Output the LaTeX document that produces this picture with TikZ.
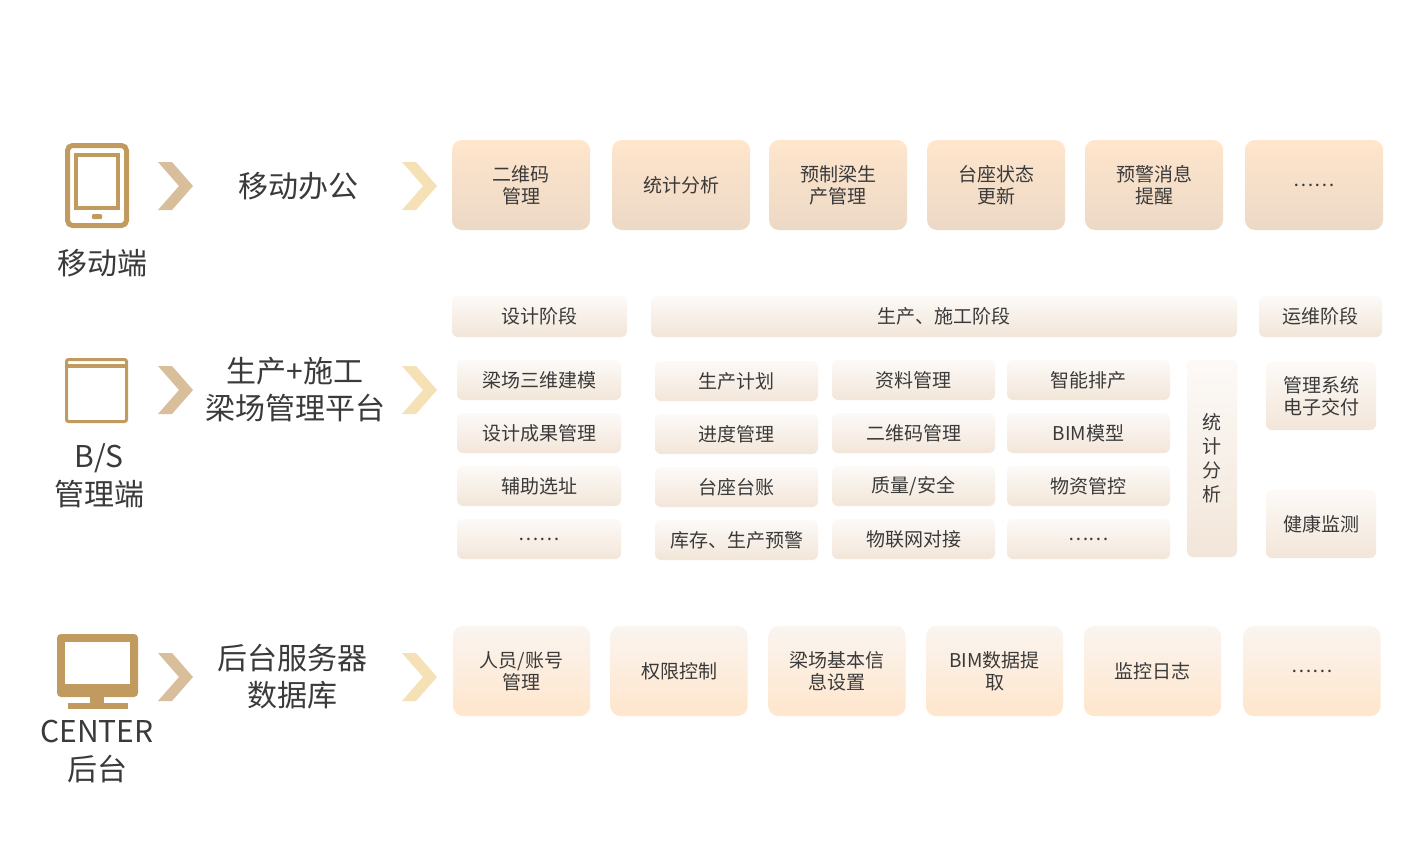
\documentclass[tikz,border=0pt]{standalone}
\usepackage{fontspec}
\setmainfont{Noto Sans CJK SC}
\usetikzlibrary{positioning}
\definecolor{gold}{HTML}{C09A5E}
\definecolor{chevA}{HTML}{D8BE9A}
\definecolor{chevB}{HTML}{F6E0B6}
\definecolor{ink}{HTML}{3A3A3A}
\tikzset{
  box/.style={rounded corners=10pt,minimum height=#1,inner sep=0pt,align=center,text=ink,font=\fontsize{19}{22}\selectfont},
  topbox/.style={box=90pt,top color=orange!20!white,bottom color=brown!30!white,draw=none},
  botbox/.style={box=90pt,top color=brown!8!white,bottom color=orange!20!white,draw=none},
  cell/.style={box=40pt,rounded corners=6pt,top color=white!96!brown,bottom color=brown!20!white,draw=none}, 
  side/.style={text=ink,align=center,font=\fontsize{30}{36}\selectfont}
}
\newcommand\chevron[3]{% x, y, colour
  \fill[#3] (#1,#2-24) -- (#1+14,#2-24) -- (#1+35,#2) -- (#1+14,#2+24) -- (#1,#2+24) -- (#1+21,#2) -- cycle;}
\begin{document}
\begin{tikzpicture}[x=1pt,y=-1pt]
\useasboundingbox (0,0) rectangle (1424,844);
\fill[white] (0,0) rectangle (1424,844);

% icons
\draw[gold,line width=5pt,rounded corners=5pt] (67.5,145.5) rectangle (126.5,225.5);
\draw[gold,line width=4pt] (76,155) rectangle (118,208);
\fill[gold,rounded corners=1pt] (92,214) rectangle (102,219);
\draw[gold,line width=3pt,rounded corners=2pt] (66.5,359.5) rectangle (126.5,421.5);
\fill[gold] (66,364) rectangle (127,368);
\fill[gold,rounded corners=4pt] (57,634) rectangle (138,697);
\fill[white] (65,642) rectangle (130,684);
\fill[gold] (90,697) rectangle (104,703);
\fill[gold] (68,703) rectangle (128,709);

% side labels
\node[side] (mob) at (102,263) {移动端};
\node[side,font=\fontsize{30}{38}\selectfont] (bs) at (99,476) {B/S\\管理端};
\node[side,font=\fontsize{30}{38}\selectfont] (cen) at (97,752) {CENTER\\后台};
\node[side] (moboff) at (298,186) {移动办公};
\node[side,font=\fontsize{30}{37}\selectfont] (plat) at (295,390) {生产+施工\\梁场管理平台};
\node[side,font=\fontsize{30}{37}\selectfont] (srv) at (292,677) {后台服务器\\数据库};

% chevrons
\foreach \y in {186,390,677}{
  \chevron{158}{\y}{chevA}
  \chevron{402}{\y}{chevB}
}

% mobile row
\foreach \x/\t [count=\i] in {521/二维码\\管理,681/统计分析,838/预制梁生\\产管理,996/台座状态\\更新,1154/预警消息\\提醒,1314/……}
  \node[topbox,minimum width=138pt] (m\i) at (\x,185) {\t};

% stage headers
\node[cell,minimum width=175pt,minimum height=41pt] (h1) at (539.5,316.5) {设计阶段};
\node[cell,minimum width=586pt,minimum height=41pt] (h2) at (944,316.5) {生产、施工阶段};
\node[cell,minimum width=123pt,minimum height=41pt] (h3) at (1320.5,316.5) {运维阶段};

% grid
\foreach \t [count=\i] in {梁场三维建模,设计成果管理,辅助选址,……}
  \node[cell,minimum width=164pt] (a\i) at (539,327+53*\i) {\t};
\foreach \t [count=\i] in {生产计划,进度管理,台座台账,库存、生产预警}
  \node[cell,minimum width=163pt] (b\i) at (736.5,328+53*\i) {\t};
\foreach \t [count=\i] in {资料管理,二维码管理,{质量/安全},物联网对接}
  \node[cell,minimum width=163pt] (c\i) at (913.5,327+53*\i) {\t};
\foreach \t [count=\i] in {智能排产,BIM模型,物资管控,……}
  \node[cell,minimum width=163pt] (d\i) at (1088.5,327+53*\i) {\t};
\node[cell,minimum width=50pt,minimum height=197pt,font=\fontsize{19}{24}\selectfont] (stat) at (1212,458.5) {统\\计\\分\\析};
\node[cell,minimum width=110pt,minimum height=68pt,font=\fontsize{19}{22}\selectfont] (r1) at (1321,396) {管理系统\\电子交付};
\node[cell,minimum width=110pt,minimum height=68pt] (r2) at (1321,524) {健康监测};

% backend row
\foreach \x/\t [count=\i] in {521.5/{人员/账号\\管理},679/权限控制,837/梁场基本信\\息设置,994.5/BIM数据提\\取,1152.5/监控日志,1312/……}
  \node[botbox,minimum width=137pt] (s\i) at (\x,671) {\t};
\end{tikzpicture}
\end{document}
